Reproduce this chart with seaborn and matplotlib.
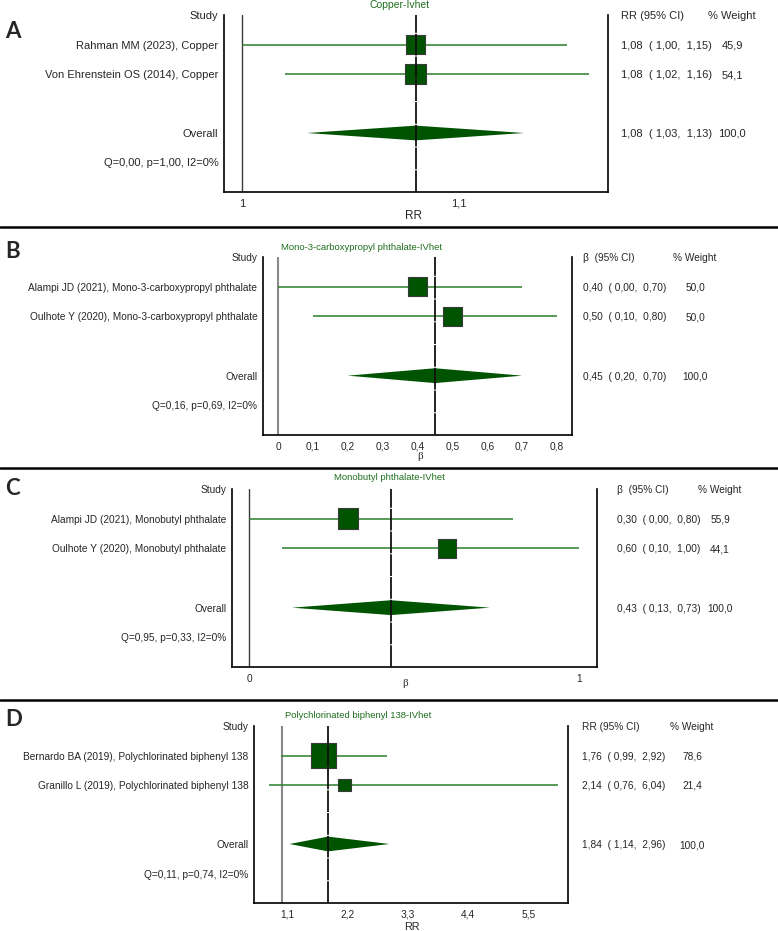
"""
Forest plots: four meta-analysis panels (A-D) stacked vertically.
Run: python plot.py  ->  out.png
"""

import matplotlib
matplotlib.use("Agg")
import matplotlib.pyplot as plt
import matplotlib.transforms as mtransforms
from matplotlib.lines import Line2D
import pandas as pd
import seaborn as sns

# ── Data ────────────────────────────────────────────────────────────────────
A_title   = "Copper-Ivhet"
A_studies = ["Rahman MM (2023), Copper", "Von Ehrenstein OS (2014), Copper"]
A_est     = [1.08, 1.08]
A_lo      = [1.00, 1.02]
A_hi      = [1.15, 1.16]
A_wt      = [45.9, 54.1]
A_overall = [1.08, 1.03, 1.13]
A_het     = [0.00, 1.00, 0]          # Q, p, I2
A_ticks   = [1, 1.1]

B_title   = "Mono-3-carboxypropyl phthalate-IVhet"
B_studies = ["Alampi JD (2021), Mono-3-carboxypropyl phthalate",
             "Oulhote Y (2020), Mono-3-carboxypropyl phthalate"]
B_est     = [0.40, 0.50]
B_lo      = [0.00, 0.10]
B_hi      = [0.70, 0.80]
B_wt      = [50.0, 50.0]
B_overall = [0.45, 0.20, 0.70]
B_het     = [0.16, 0.69, 0]
B_ticks   = [0, 0.1, 0.2, 0.3, 0.4, 0.5, 0.6, 0.7, 0.8]

C_title   = "Monobutyl phthalate-IVhet"
C_studies = ["Alampi JD (2021), Monobutyl phthalate",
             "Oulhote Y (2020), Monobutyl phthalate"]
C_est     = [0.30, 0.60]
C_lo      = [0.00, 0.10]
C_hi      = [0.80, 1.00]
C_wt      = [55.9, 44.1]
C_overall = [0.43, 0.13, 0.73]
C_het     = [0.95, 0.33, 0]
C_ticks   = [0, 1]

D_title   = "Polychlorinated biphenyl 138-IVhet"
D_studies = ["Bernardo BA (2019), Polychlorinated biphenyl 138",
             "Granillo L (2019), Polychlorinated biphenyl 138"]
D_est     = [1.76, 2.14]
D_lo      = [0.99, 0.76]
D_hi      = [2.92, 6.04]
D_wt      = [78.6, 21.4]
D_overall = [1.84, 1.14, 2.96]
D_het     = [0.11, 0.74, 0]
D_ticks   = [1.1, 2.2, 3.3, 4.4, 5.5]

# ── Style ───────────────────────────────────────────────────────────────────
sns.set_style("white")
plt.rcParams["font.family"] = ["Liberation Sans", "DejaVu Sans"]

W, H = 778, 931
SQ_COL    = "#005300"
CI_COL    = "#2b7d2b"
TITLE_COL = "#1f6e1f"

fig = plt.figure(figsize=(W / 100, H / 100), dpi=100)


def fx(px):
    return px / W


def fy(py):
    return 1 - py / H


def dec(v, fmt):
    return format(v, fmt).replace(".", ",")


# layout per panel, in pixels of the output picture
panels = [
    dict(letter="A", title=A_title, studies=A_studies, est=A_est, lo=A_lo, hi=A_hi,
         wt=A_wt, overall=A_overall, het=A_het, ticks=A_ticks, measure="RR", null=1,
         box=(224, 15, 608, 192), xlim=(0.9917, 1.1687), title_xy=(400, 5),
         letter_y=32, stat_x=621, wt_x=732, fs=8.0, xlab=(413, 216),
         null_col="#3a3a3a", null_lw=1.0),
    dict(letter="B", title=B_title, studies=B_studies, est=B_est, lo=B_lo, hi=B_hi,
         wt=B_wt, overall=B_overall, het=B_het, ticks=B_ticks, measure="β", null=0,
         box=(263, 257, 572, 435), xlim=(-0.043, 0.843), title_xy=(362, 247),
         letter_y=252, stat_x=583, wt_x=695, fs=7.3, xlab=(420, 457),
         null_col="#8a8a8a", null_lw=1.5),
    dict(letter="C", title=C_title, studies=C_studies, est=C_est, lo=C_lo, hi=C_hi,
         wt=C_wt, overall=C_overall, het=C_het, ticks=C_ticks, measure="β", null=0,
         box=(232, 489, 597, 667), xlim=(-0.052, 1.055), title_xy=(389, 478),
         letter_y=488, stat_x=617, wt_x=720, fs=7.3, xlab=(405, 683),
         null_col="#3a3a3a", null_lw=1.0),
    dict(letter="D", title=D_title, studies=D_studies, est=D_est, lo=D_lo, hi=D_hi,
         wt=D_wt, overall=D_overall, het=D_het, ticks=D_ticks, measure="RR", null=1,
         box=(254, 726, 568, 903), xlim=(0.49, 6.22), title_xy=(358, 715),
         letter_y=720, stat_x=582, wt_x=692, fs=7.3, xlab=(412, 927),
         null_col="#8a8a8a", null_lw=1.5),
]

for p in panels:
    l, t, r, b = p["box"]
    ax = fig.add_axes([fx(l), fy(b), (r - l) / W, (b - t) / H])
    n = len(p["studies"])
    rows = list(range(1, n + 1))
    row_overall = n + 2
    row_het = n + 3
    fs = p["fs"]

    # confidence intervals
    ax.hlines(rows, p["lo"], p["hi"], color=CI_COL, lw=1.1, zorder=3)

    # study squares, area proportional to weight
    df = pd.DataFrame({"est": p["est"], "row": rows, "wt": p["wt"]})
    sns.scatterplot(data=df, x="est", y="row", size="wt",
                    sizes={w: 4.0 * w for w in p["wt"]}, marker="s",
                    color=SQ_COL, edgecolor="#3a3a3a", linewidth=0.8,
                    legend=False, ax=ax, zorder=4)

    # pooled diamond
    est, lo, hi = p["overall"]
    hh = 0.25
    ax.fill([lo, est, hi, est], [row_overall, row_overall - hh, row_overall, row_overall + hh],
            color=SQ_COL, lw=0, zorder=4)

    # null line and pooled-estimate line
    ax.axvline(p["null"], color=p["null_col"], lw=p["null_lw"], zorder=2)
    ax.axvline(est, color="#111111", lw=1.3, ls=(0, (12, 0.6)), zorder=5)

    ax.set_xlim(*p["xlim"])
    ax.set_ylim(n + 4, 0)

    # left-hand labels as y tick labels
    q, pv, i2 = p["het"]
    het_txt = f"Q={dec(q, '.2f')}, p={dec(pv, '.2f')}, I2={i2:g}%"
    ax.set_yticks([0] + rows + [row_overall, row_het])
    ax.set_yticklabels(["Study"] + p["studies"] + ["Overall", het_txt], fontsize=fs)
    ax.tick_params(axis="y", length=0, pad=4)
    ax.set_ylabel("")

    ax.set_xticks(p["ticks"])
    ax.set_xticklabels([dec(v, "g") for v in p["ticks"]], fontsize=fs)
    ax.tick_params(axis="x", length=3, width=0.8, pad=2, direction="out")
    ax.set_xlabel(p["measure"], fontsize=fs + 0.5,
                  family=["Liberation Serif"] if p["measure"] == "β" else None)
    ax.xaxis.label.set_verticalalignment("center")
    lx, ly = p["xlab"]
    ax.xaxis.set_label_coords((lx - l) / (r - l), -(ly - b) / (b - t))

    sns.despine(ax=ax, top=True, right=False, left=False, bottom=False)
    for side in ["left", "right", "bottom"]:
        ax.spines[side].set_color("black")
        ax.spines[side].set_linewidth(1.2)
    ax.grid(False)

    # right-hand columns
    trans = mtransforms.blended_transform_factory(fig.transFigure, ax.transData)
    head = "RR (95% CI)" if p["measure"] == "RR" else "β  (95% CI)"
    ax.text(fx(p["stat_x"]), 0, head, transform=trans, ha="left",
            va="center_baseline", fontsize=fs)
    ax.text(fx(p["wt_x"]), 0, "% Weight", transform=trans, ha="center",
            va="center_baseline", fontsize=fs)
    stat_rows = rows + [row_overall]
    ests = p["est"] + [est]
    los = p["lo"] + [lo]
    his = p["hi"] + [hi]
    wts = p["wt"] + [100.0]
    for yy, e, a, bb, w in zip(stat_rows, ests, los, his, wts):
        s = f"{dec(e, '.2f')}  ( {dec(a, '.2f')},  {dec(bb, '.2f')})"
        ax.text(fx(p["stat_x"]), yy, s, transform=trans, ha="left",
                va="center_baseline", fontsize=fs)
        ax.text(fx(p["wt_x"]), yy, dec(w, ".1f"), transform=trans, ha="center",
                va="center_baseline", fontsize=fs)

    # panel title and letter
    tx, ty = p["title_xy"]
    fig.text(fx(tx), fy(ty), p["title"], color=TITLE_COL, ha="center", va="center",
             fontsize=fs - 0.5)
    fig.text(fx(5), fy(p["letter_y"]), p["letter"], ha="left", va="center",
             fontsize=16, fontweight="bold", family=["Lato", "DejaVu Sans"])

# separators between panels
for sy in [227, 468, 700]:
    fig.add_artist(Line2D([0, 1], [fy(sy), fy(sy)], transform=fig.transFigure,
                          color="black", lw=1.8))

fig.savefig("out.png", dpi=100)
plt.close(fig)
